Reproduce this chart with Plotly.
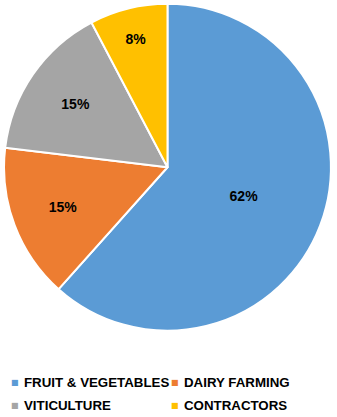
import plotly.graph_objects as go

# Share of businesses by sector
sectors = ["FRUIT & VEGETABLES", "DAIRY FARMING", "VITICULTURE", "CONTRACTORS"]
shares = [61.6, 15.3, 15.4, 7.7]
colours = ["#5B9BD5", "#ED7D31", "#A5A5A5", "#FFC000"]

fig = go.Figure(go.Pie(
    labels=sectors,
    values=shares,
    sort=False,
    direction="clockwise",
    rotation=0,
    marker=dict(colors=colours, line=dict(color="white", width=2)),
    texttemplate="%{percent:.0%}",
    textposition="inside",
    insidetextorientation="horizontal",
    textfont=dict(family="Liberation Sans", size=14, color="black", weight="bold"),
    domain=dict(x=[0.012, 0.982], y=[0.205, 0.993]),
    hoverinfo="label+percent",
    showlegend=False,
))

# legend drawn as a 2x2 grid of small squares + labels (Excel style)
col_x = [15, 175]
row_y = [382, 405]
for i, (name, c) in enumerate(zip(sectors, colours)):
    x0 = col_x[i % 2] / 337
    y0 = 1 - row_y[i // 2] / 417
    fig.add_annotation(x=x0, y=y0, xref="paper", yref="paper", text="■",
                       showarrow=False, xanchor="center", yanchor="middle",
                       font=dict(family="DejaVu Sans", size=8, color=c))
    fig.add_annotation(x=x0 + 7 / 337, y=y0, xref="paper", yref="paper", text=name,
                       showarrow=False, xanchor="left", yanchor="middle",
                       font=dict(family="Liberation Sans", size=13.3, color="black", weight="bold"))

fig.update_layout(
    width=337,
    height=417,
    margin=dict(l=0, r=0, t=0, b=0),
    paper_bgcolor="white",
    plot_bgcolor="white",
    showlegend=False,
)

# drop the page's default body margin so the figure sits at the top-left corner
fig.write_html("out.html", config={"displayModeBar": False},
               post_script="document.body.style.margin='0';")
